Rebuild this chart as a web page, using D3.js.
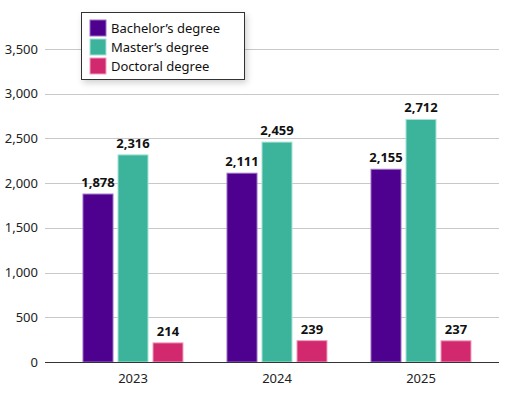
<!DOCTYPE html>
<html>
<head>
<meta charset="utf-8">
<script src="https://cdn.jsdelivr.net/npm/d3@7"></script>
<style>
  body { margin: 0; background: #fff; }
  svg { font-family: "Noto Sans", "Open Sans", sans-serif; }
</style>
</head>
<body>
<svg id="chart" width="510" height="398"></svg>
<script>
const years = ["2023", "2024", "2025"];
const seriesNames = ["Bachelor’s degree", "Master’s degree", "Doctoral degree"];
const seriesColors = ["#4e008e", "#3bb49b", "#d2296e"];
const seriesStrokes = ["#9b6fc2", "#a9e2d6", "#f0a0c0"];
const bachelor = [1878, 2111, 2155];
const master = [2316, 2459, 2712];
const doctoral = [214, 239, 237];
const yTicks = [0, 500, 1000, 1500, 2000, 2500, 3000, 3500];

const values = [bachelor, master, doctoral];
const svg = d3.select("#chart");

const y = d3.scaleLinear().domain([0, 3500]).range([362, 49]);
const x0 = d3.scaleBand().domain(years).range([61, 493])
  .paddingInner(0.2986).paddingOuter(0.1493);
const x1 = d3.scaleBand().domain(d3.range(3)).range([0, x0.bandwidth()])
  .paddingInner(0.114);

// gridlines
svg.append("g")
  .selectAll("line")
  .data(yTicks.filter(d => d > 0))
  .join("line")
  .attr("x1", 45).attr("x2", 499)
  .attr("y1", d => Math.round(y(d)) + 0.5)
  .attr("y2", d => Math.round(y(d)) + 0.5)
  .attr("stroke", "#c8c8c8")
  .attr("stroke-width", 1);

// y labels
svg.append("g")
  .selectAll("text")
  .data(yTicks)
  .join("text")
  .attr("x", 38)
  .attr("y", d => y(d))
  .attr("dy", "0.35em")
  .attr("text-anchor", "end")
  .attr("font-size", 13)
  .attr("fill", "#222")
  .text(d => d3.format(",")(d));

// bars
const groups = svg.append("g")
  .selectAll("g")
  .data(years)
  .join("g")
  .attr("transform", d => `translate(${x0(d)},0)`);

groups.each(function (yr, yi) {
  const g = d3.select(this);
  values.forEach((arr, si) => {
    const v = arr[yi];
    g.append("rect")
      .attr("x", x1(si) + 0.5)
      .attr("y", y(v))
      .attr("width", x1.bandwidth() - 1)
      .attr("height", y(0) - y(v))
      .attr("fill", seriesColors[si])
      .attr("stroke", seriesStrokes[si])
      .attr("stroke-width", 1);
    g.append("text")
      .attr("x", x1(si) + x1.bandwidth() / 2)
      .attr("y", y(v) - 7)
      .attr("text-anchor", "middle")
      .attr("font-size", 13)
      .attr("font-weight", "bold")
      .attr("fill", "#111")
      .text(d3.format(",")(v));
  });
});

// baseline
svg.append("line")
  .attr("x1", 45).attr("x2", 499)
  .attr("y1", 362.5).attr("y2", 362.5)
  .attr("stroke", "#333")
  .attr("stroke-width", 1);

// x labels
svg.append("g")
  .selectAll("text")
  .data(years)
  .join("text")
  .attr("x", d => x0(d) + x0.bandwidth() / 2)
  .attr("y", 383)
  .attr("text-anchor", "middle")
  .attr("font-size", 13)
  .attr("fill", "#222")
  .text(d => d);

// legend
const defs = svg.append("defs");
const filt = defs.append("filter").attr("id", "shadow")
  .attr("x", "-10%").attr("y", "-10%").attr("width", "130%").attr("height", "140%");
filt.append("feDropShadow").attr("dx", 2).attr("dy", 3).attr("stdDeviation", 3)
  .attr("flood-color", "#000").attr("flood-opacity", 0.18);

const legend = svg.append("g").attr("transform", "translate(81.5,12.5)");
legend.append("rect")
  .attr("width", 163).attr("height", 67)
  .attr("fill", "#fff")
  .attr("stroke", "#333")
  .attr("stroke-width", 1)
  .attr("filter", "url(#shadow)");
seriesNames.forEach((name, i) => {
  legend.append("rect")
    .attr("x", 8.5).attr("y", 7.5 + i * 19)
    .attr("width", 16).attr("height", 16)
    .attr("fill", seriesColors[i])
    .attr("stroke", seriesStrokes[i])
    .attr("stroke-width", 1);
  legend.append("text")
    .attr("x", 29.5).attr("y", 15.5 + i * 19)
    .attr("dy", "0.35em")
    .attr("font-size", 13)
    .attr("fill", "#111")
    .text(name);
});
</script>
</body>
</html>
